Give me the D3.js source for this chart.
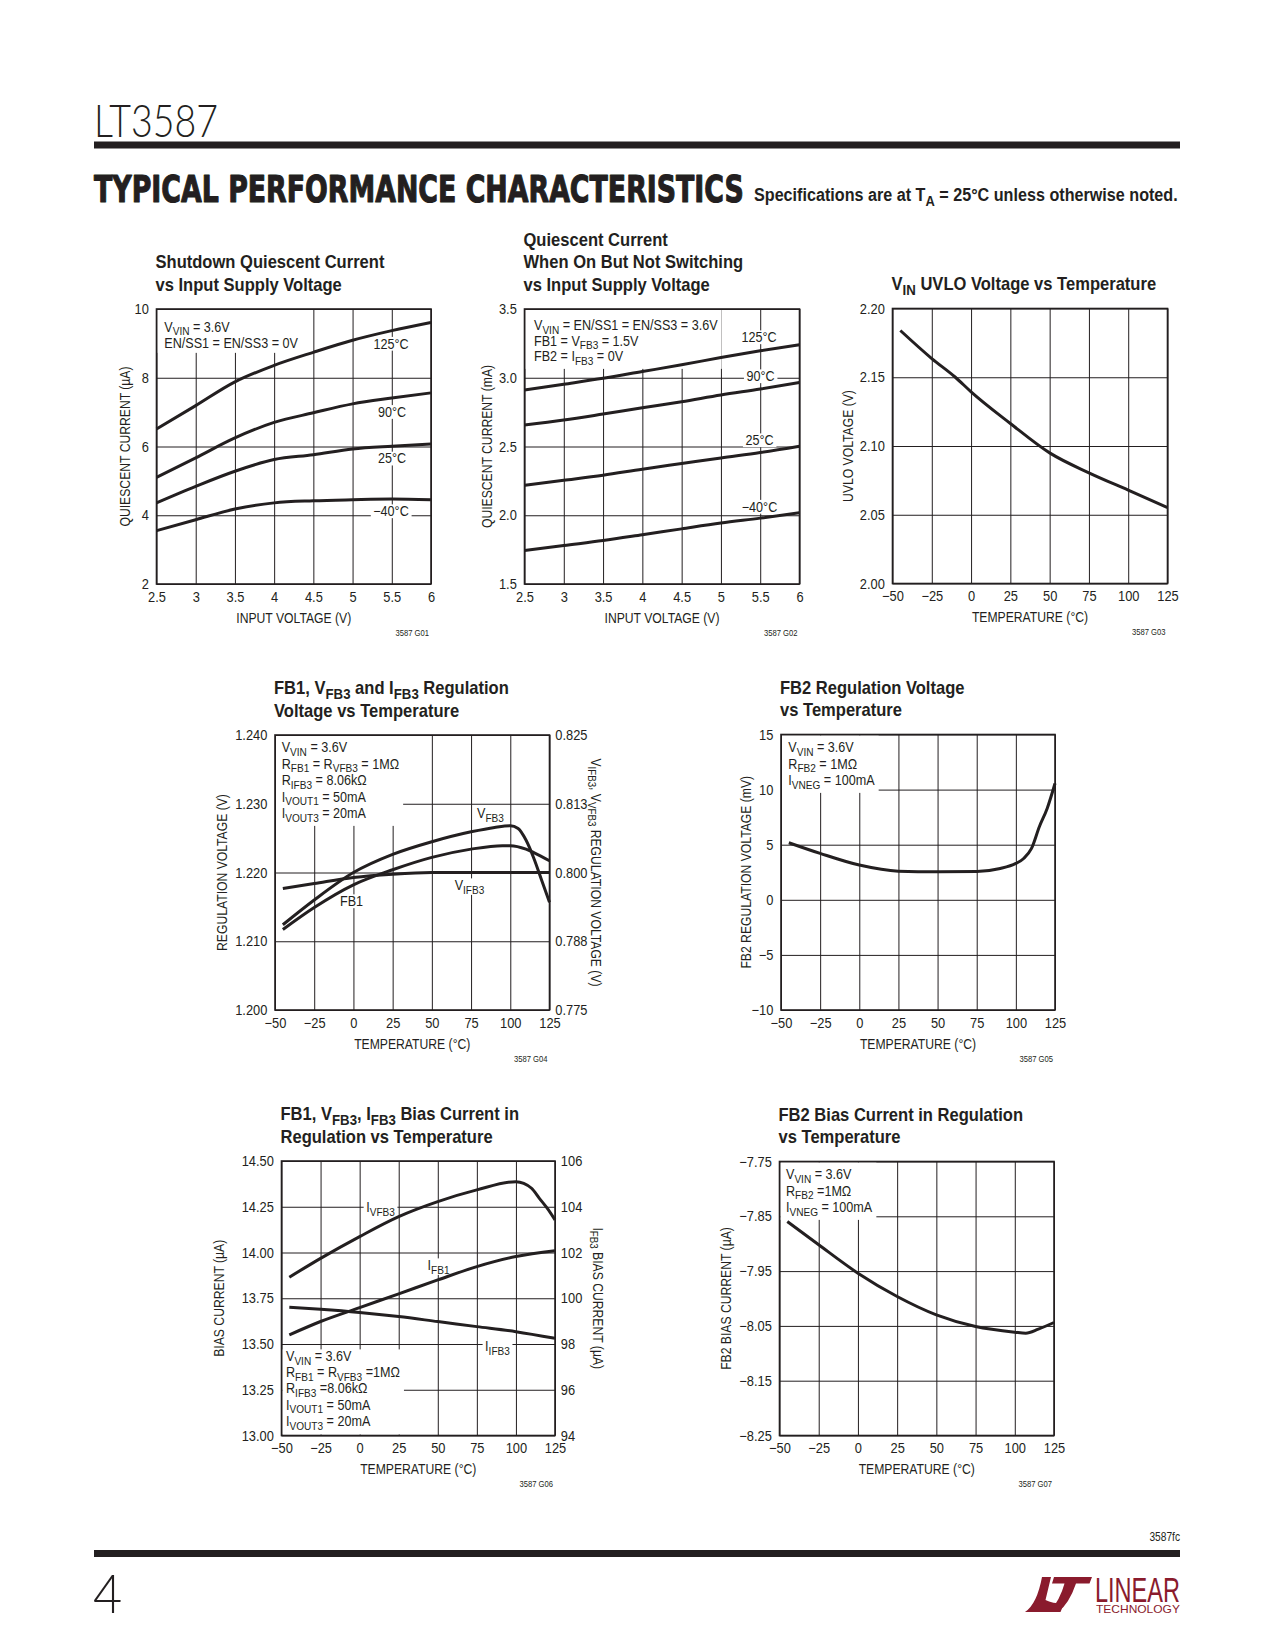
<!DOCTYPE html>
<html><head><meta charset="utf-8">
<script src="https://cdn.jsdelivr.net/npm/d3@7"></script>
<style>html,body{margin:0;padding:0;background:#fff;} svg{display:block;}</style>
</head><body>
<svg id="page" width="1275" height="1650"></svg>
<script>
// ---------------- DATA ----------------
const vinTicks = [2.5, 3, 3.5, 4, 4.5, 5, 5.5, 6];
const vinTickLabels = ['2.5','3','3.5','4','4.5','5','5.5','6'];
const tempTicks = [-50, -25, 0, 25, 50, 75, 100, 125];
const tempTickLabels = ['−50','−25','0','25','50','75','100','125'];

// G01 Shutdown quiescent current (µA) vs VIN
const g01Vin = [2.5, 3, 3.5, 4, 4.5, 5, 5.5, 6];
const g01I125 = [6.51, 7.19, 7.88, 8.36, 8.74, 9.09, 9.37, 9.61];
const g01I90  = [5.10, 5.67, 6.25, 6.70, 6.98, 7.24, 7.41, 7.56];
const g01I25  = [4.36, 4.84, 5.28, 5.62, 5.76, 5.93, 6.01, 6.07];
const g01Im40 = [3.55, 3.87, 4.18, 4.36, 4.42, 4.45, 4.47, 4.45];
const g01YTicks = [2, 4, 6, 8, 10];
const g01YLabels = ['2','4','6','8','10'];

// G02 Quiescent current (mA) on, not switching
const g02Vin = [2.5, 3, 3.5, 4, 4.5, 5, 5.5, 6];
const g02I125 = [2.911, 2.953, 2.996, 3.045, 3.094, 3.147, 3.196, 3.240];
const g02I90  = [2.656, 2.692, 2.736, 2.782, 2.826, 2.875, 2.918, 2.965];
const g02I25  = [2.218, 2.254, 2.291, 2.335, 2.376, 2.417, 2.456, 2.502];
const g02Im40 = [1.743, 1.780, 1.816, 1.858, 1.901, 1.943, 1.979, 2.018];
const g02YTicks = [1.5, 2.0, 2.5, 3.0, 3.5];
const g02YLabels = ['1.5','2.0','2.5','3.0','3.5'];

const tempCurveNames = ['125°C','90°C','25°C','−40°C'];

// G03 VIN UVLO (V) vs temperature
const g03Temp = [-45, -25, -10, 0, 25, 50, 75, 100, 125];
const g03Uvlo = [2.184, 2.1636, 2.150, 2.1394, 2.1164, 2.095, 2.0805, 2.0679, 2.0553];
const g03YTicks = [2.00, 2.05, 2.10, 2.15, 2.20];
const g03YLabels = ['2.00','2.05','2.10','2.15','2.20'];

// G04 regulation voltage vs temperature
const g04VfbTemp = [-45, -25, 0, 25, 50, 75, 90, 100, 105, 110, 115, 120, 125];
const g04Vfb3 = [0.7905, 0.7950, 0.8000, 0.8033, 0.8056, 0.8074, 0.8082, 0.8085, 0.8080, 0.8059, 0.8026, 0.7986, 0.7946]; // right axis
const g04Fb1Temp = [-45, -25, 0, 25, 50, 75, 95, 100, 110, 115, 125];
const g04Fb1 = [1.2117, 1.2149, 1.2182, 1.2204, 1.2222, 1.2234, 1.2239, 1.2239, 1.2234, 1.2229, 1.2217]; // left axis
const g04IfbTemp = [-45, -25, 0, 25, 50, 75, 100, 125];
const g04Vifb3 = [0.7971, 0.7980, 0.7991, 0.7997, 0.8000, 0.8000, 0.8000, 0.8000]; // right axis
const g04YTicks = [1.200, 1.210, 1.220, 1.230, 1.240];
const g04YLabels = ['1.200','1.210','1.220','1.230','1.240'];
const g04Y2Ticks = [0.775, 0.7875, 0.800, 0.8125, 0.825];
const g04Y2Labels = ['0.775','0.788','0.800','0.813','0.825'];

// G05 FB2 regulation voltage (mV)
const g05Temp = [-45, -25, 0, 25, 50, 75, 90, 100, 105, 110, 115, 120, 125];
const g05Vfb2 = [5.18, 4.21, 3.15, 2.60, 2.54, 2.57, 2.84, 3.30, 3.75, 4.66, 6.63, 8.29, 10.56];
const g05YTicks = [-10, -5, 0, 5, 10, 15];
const g05YLabels = ['−10','−5','0','5','10','15'];

// G06 bias currents
const g06VfbTemp = [-45, -25, 0, 25, 50, 75, 100, 105, 110, 115, 120, 125];
const g06Ivfb3 = [13.865, 13.968, 14.087, 14.196, 14.278, 14.342, 14.387, 14.378, 14.351, 14.296, 14.242, 14.178];
const g06Temp = [-45, -25, 0, 25, 50, 75, 100, 125];
const g06Ifb1 = [13.550, 13.623, 13.699, 13.774, 13.850, 13.923, 13.978, 14.010];
const g06Iifb3 = [99.61, 99.52, 99.38, 99.20, 98.98, 98.76, 98.54, 98.25]; // right axis
const g06YTicks = [13.00, 13.25, 13.50, 13.75, 14.00, 14.25, 14.50];
const g06YLabels = ['13.00','13.25','13.50','13.75','14.00','14.25','14.50'];
const g06Y2Ticks = [94, 96, 98, 100, 102, 104, 106];
const g06Y2Labels = ['94','96','98','100','102','104','106'];

// G07 FB2 bias current (µA)
const g07Temp = [-45, -25, 0, 25, 50, 75, 100, 107, 115, 125];
const g07Ifb2 = [-7.8595, -7.902, -7.9538, -7.9963, -8.0298, -8.0511, -8.0614, -8.0633, -8.056, -8.0438];
const g07YTicks = [-8.25, -8.15, -8.05, -7.95, -7.85, -7.75];
const g07YLabels = ['−8.25','−8.15','−8.05','−7.95','−7.85','−7.75'];

// ---------------- DRAWING ----------------
const INK = '#231f20';
const FONT = "'Liberation Sans', Arial, Helvetica, sans-serif";
const svg = d3.select('#page');
svg.append('rect').attr('width', 1275).attr('height', 1650).attr('fill', '#fff');

function rich(t, str, size) {
  const re = /_\{([^}]*)\}/g;
  let last = 0, m, sub = false;
  const sh = size * 0.27, ss = size * 0.8;
  const push = (s, isSub) => {
    if (!s) return;
    const ts = t.append('tspan').text(s);
    if (isSub) { ts.attr('font-size', ss).attr('dy', sub ? 0 : sh); sub = true; }
    else if (sub) { ts.attr('dy', -sh); sub = false; }
  };
  while ((m = re.exec(str))) { push(str.slice(last, m.index), false); push(m[1], true); last = re.lastIndex; }
  push(str.slice(last), false);
}

function txt(layer, x, y, str, o = {}) {
  const size = o.size || 14;
  const t = layer.append('text')
    .attr('font-family', o.family || FONT).attr('font-size', size)
    .attr('font-weight', o.weight || 'normal').attr('fill', o.fill || INK)
    .attr('text-anchor', o.anchor || 'start');
  if (o.dy) t.attr('dy', o.dy);
  if (o.stroke) t.attr('stroke', o.fill || INK).attr('stroke-width', o.stroke).attr('stroke-linejoin', 'round');
  rich(t, str, size);
  let sx = (o.sx === undefined) ? 0.9 : o.sx;
  if (o.width) { const w = t.node().getBBox().width; sx = o.width / w; }
  let tr = `translate(${x},${y})`;
  if (o.rot) tr += ` rotate(${o.rot})`;
  if (sx !== 1) tr += ` scale(${sx},1)`;
  t.attr('transform', tr);
  return t;
}

function whiteBox(layer, x0, y0, x1, y1) {
  layer.append('rect').attr('x', x0).attr('y', y0).attr('width', x1 - x0).attr('height', y1 - y0).attr('fill', '#fff');
}

function chart(c) {
  const {L, T, W, H} = c;
  const x = d3.scaleLinear().domain(c.xDom).range([L, L + W]);
  const y = d3.scaleLinear().domain(c.yDom).range([T + H, T]);
  const y2 = c.y2Dom ? d3.scaleLinear().domain(c.y2Dom).range([T + H, T]) : null;
  const root = svg.append('g');
  const gridL = root.append('g'), bgL = root.append('g'), lineL = root.append('g'),
        frameL = root.append('g'), textL = root.append('g');

  // grid
  gridL.append('g').attr('transform', `translate(0,${T + H})`)
    .call(d3.axisBottom(x).tickValues(c.xTicks).tickSize(-H).tickFormat(''))
    .call(g => g.select('.domain').remove())
    .selectAll('line').attr('stroke', INK).attr('stroke-width', 1);
  gridL.append('g').attr('transform', `translate(${L},0)`)
    .call(d3.axisLeft(y).tickValues(c.yTicks).tickSize(-W).tickFormat(''))
    .call(g => g.select('.domain').remove())
    .selectAll('line').attr('stroke', INK).attr('stroke-width', 1);

  // tick labels
  const xa = textL.append('g').attr('transform', `translate(0,${T + H})`)
    .call(d3.axisBottom(x).tickValues(c.xTicks).tickSize(0).tickPadding(7.5).tickFormat((d, i) => c.xLabels[i]));
  const ya = textL.append('g').attr('transform', `translate(${L},0)`)
    .call(d3.axisLeft(y).tickValues(c.yTicks).tickSize(0).tickPadding(8.5).tickFormat((d, i) => c.yLabels[i]));
  const axes = [xa, ya];
  if (y2) {
    const ra = textL.append('g').attr('transform', `translate(${L + W},0)`)
      .call(d3.axisRight(y2).tickValues(c.y2Ticks).tickSize(0).tickPadding(6.5).tickFormat((d, i) => c.y2Labels[i]));
    axes.push(ra);
  }
  axes.forEach(a => {
    a.select('.domain').remove();
    a.attr('font-family', FONT).attr('font-size', 14.3);
    a.selectAll('text').attr('fill', INK).attr('transform', 'scale(0.9,1)');
  });

  // titles
  const nT = c.title.length;
  c.title.forEach((s, i) => txt(textL, L - 1, T - 18.5 - (nT - 1 - i) * 22.5, s, {size: 18, weight: 'bold', sx: 0.92}));
  txt(textL, L + W / 2, T + H + 38.5, c.xTitle, {size: 14, sx: 0.87, anchor: 'middle'});
  txt(textL, L - c.yTitleOff, T + H / 2, c.yTitle, {size: 14, sx: 0.87, anchor: 'middle', rot: -90, dy: '0.36em'});
  if (c.y2Title) txt(textL, L + W + c.y2TitleOff, T + H / 2, c.y2Title, {size: 14, sx: 0.87, anchor: 'middle', rot: 90, dy: '0.36em'});
  txt(textL, L + W - 2, T + H + 51.5, c.gLabel, {size: 9, sx: 0.85, anchor: 'end'});

  // annotation box
  if (c.notes) {
    const n = c.notes;
    const nodes = n.lines.map((s, i) => txt(textL, n.x, n.y + i * n.pitch, s, {size: 14, sx: 0.9}).node());
    const rs = nodes.map(nd => nd.getBoundingClientRect());
    const r = {left: d3.min(rs, d => d.left), right: d3.max(rs, d => d.right), top: d3.min(rs, d => d.top), bottom: d3.max(rs, d => d.bottom)};
    if (n.corner === 'tl') whiteBox(bgL, L + 1, T + 1, r.right + 4, r.bottom + 2);
    else whiteBox(bgL, L + 1, r.top + 1, r.right + 4, T + H - 1);
  }

  // curve labels
  (c.labels || []).forEach(lb => {
    const nd = txt(textL, lb.x, lb.y, lb.t, {size: 14, sx: 0.9, anchor: 'middle'}).node();
    const r = nd.getBoundingClientRect();
    whiteBox(bgL, r.left - 2.5, r.top + 1, r.right + 2.5, r.bottom - 1);
  });

  // series
  c.series.forEach(s => {
    const yy = s.right ? y2 : y;
    lineL.append('path').datum(d3.zip(s.x, s.y))
      .attr('d', d3.line().x(d => x(d[0])).y(d => yy(d[1])).curve(d3.curveMonotoneX))
      .attr('fill', 'none').attr('stroke', INK).attr('stroke-width', 3)
      .attr('stroke-linejoin', 'round');
  });

  frameL.append('rect').attr('x', L).attr('y', T).attr('width', W).attr('height', H)
    .attr('fill', 'none').attr('stroke', INK).attr('stroke-width', 1.6);
}

const charts = [
  {L: 156.5, T: 309, W: 274.5, H: 275, xDom: [2.5, 6], yDom: [2, 10], xTicks: vinTicks, xLabels: vinTickLabels,
   yTicks: g01YTicks, yLabels: g01YLabels, title: ['Shutdown Quiescent Current', 'vs Input Supply Voltage'],
   xTitle: 'INPUT VOLTAGE (V)', yTitle: 'QUIESCENT CURRENT (µA)', yTitleOff: 31.5, gLabel: '3587 G01',
   series: [{x: g01Vin, y: g01I125}, {x: g01Vin, y: g01I90}, {x: g01Vin, y: g01I25}, {x: g01Vin, y: g01Im40}],
   notes: {lines: ['V_{VIN} = 3.6V', 'EN/SS1 = EN/SS3 = 0V'], x: 164.3, y: 331.7, pitch: 16, corner: 'tl'},
   labels: [{t: tempCurveNames[0], x: 391, y: 348.5}, {t: tempCurveNames[1], x: 392, y: 416.7},
            {t: tempCurveNames[2], x: 392, y: 463.3}, {t: tempCurveNames[3], x: 391, y: 516}]},
  {L: 524.5, T: 309, W: 275, H: 275, xDom: [2.5, 6], yDom: [1.5, 3.5], xTicks: vinTicks, xLabels: vinTickLabels,
   yTicks: g02YTicks, yLabels: g02YLabels, title: ['Quiescent Current', 'When On But Not Switching', 'vs Input Supply Voltage'],
   xTitle: 'INPUT VOLTAGE (V)', yTitle: 'QUIESCENT CURRENT (mA)', yTitleOff: 37.5, gLabel: '3587 G02',
   series: [{x: g02Vin, y: g02I125}, {x: g02Vin, y: g02I90}, {x: g02Vin, y: g02I25}, {x: g02Vin, y: g02Im40}],
   notes: {lines: ['V_{VIN} = EN/SS1 = EN/SS3 = 3.6V', 'FB1 = V_{FB3} = 1.5V', 'FB2 = I_{FB3} = 0V'], x: 534, y: 330, pitch: 15.5, corner: 'tl'},
   labels: [{t: tempCurveNames[0], x: 759, y: 342}, {t: tempCurveNames[1], x: 760.5, y: 381},
            {t: tempCurveNames[2], x: 759.5, y: 445}, {t: tempCurveNames[3], x: 759.5, y: 511.5}]},
  {L: 892.5, T: 308.5, W: 275, H: 275, xDom: [-50, 125], yDom: [2.0, 2.2], xTicks: tempTicks, xLabels: tempTickLabels,
   yTicks: g03YTicks, yLabels: g03YLabels, title: ['V_{IN} UVLO Voltage vs Temperature'],
   xTitle: 'TEMPERATURE (°C)', yTitle: 'UVLO VOLTAGE (V)', yTitleOff: 44.5, gLabel: '3587 G03',
   series: [{x: g03Temp, y: g03Uvlo}]},
  {L: 275, T: 735, W: 274.5, H: 275, xDom: [-50, 125], yDom: [1.2, 1.24], y2Dom: [0.775, 0.825],
   xTicks: tempTicks, xLabels: tempTickLabels, yTicks: g04YTicks, yLabels: g04YLabels, y2Ticks: g04Y2Ticks, y2Labels: g04Y2Labels,
   title: ['FB1, V_{FB3} and I_{FB3} Regulation', 'Voltage vs Temperature'],
   xTitle: 'TEMPERATURE (°C)', yTitle: 'REGULATION VOLTAGE (V)', yTitleOff: 53,
   y2Title: 'V_{IFB3}, V_{VFB3} REGULATION VOLTAGE (V)', y2TitleOff: 47, gLabel: '3587 G04',
   series: [{x: g04VfbTemp, y: g04Vfb3, right: true}, {x: g04Fb1Temp, y: g04Fb1}, {x: g04IfbTemp, y: g04Vifb3, right: true}],
   notes: {lines: ['V_{VIN} = 3.6V', 'R_{FB1} = R_{VFB3} = 1MΩ', 'R_{IFB3} = 8.06kΩ', 'I_{VOUT1} = 50mA', 'I_{VOUT3} = 20mA'], x: 281.7, y: 752, pitch: 16.5, corner: 'tl'},
   labels: [{t: 'V_{FB3}', x: 490.5, y: 818}, {t: 'FB1', x: 351.5, y: 906}, {t: 'V_{IFB3}', x: 469.5, y: 890}]},
  {L: 781, T: 734.5, W: 274, H: 275.5, xDom: [-50, 125], yDom: [-10, 15], xTicks: tempTicks, xLabels: tempTickLabels,
   yTicks: g05YTicks, yLabels: g05YLabels, title: ['FB2 Regulation Voltage', 'vs Temperature'],
   xTitle: 'TEMPERATURE (°C)', yTitle: 'FB2 REGULATION VOLTAGE (mV)', yTitleOff: 35, gLabel: '3587 G05',
   series: [{x: g05Temp, y: g05Vfb2}],
   notes: {lines: ['V_{VIN} = 3.6V', 'R_{FB2} = 1MΩ', 'I_{VNEG} = 100mA'], x: 788.3, y: 752, pitch: 16.5, corner: 'tl'}},
  {L: 281.5, T: 1161, W: 273.5, H: 274.5, xDom: [-50, 125], yDom: [13, 14.5], y2Dom: [94, 106],
   xTicks: tempTicks, xLabels: tempTickLabels, yTicks: g06YTicks, yLabels: g06YLabels, y2Ticks: g06Y2Ticks, y2Labels: g06Y2Labels,
   title: ['FB1, V_{FB3}, I_{FB3} Bias Current in', 'Regulation vs Temperature'],
   xTitle: 'TEMPERATURE (°C)', yTitle: 'BIAS CURRENT (µA)', yTitleOff: 63,
   y2Title: 'I_{FB3} BIAS CURRENT (µA)', y2TitleOff: 43.5, gLabel: '3587 G06',
   series: [{x: g06VfbTemp, y: g06Ivfb3}, {x: g06Temp, y: g06Ifb1}, {x: g06Temp, y: g06Iifb3, right: true}],
   notes: {lines: ['V_{VIN} = 3.6V', 'R_{FB1} = R_{VFB3} =1MΩ', 'R_{IFB3} =8.06kΩ', 'I_{VOUT1} = 50mA', 'I_{VOUT3} = 20mA'], x: 286, y: 1361, pitch: 16.2, corner: 'bl'},
   labels: [{t: 'I_{VFB3}', x: 380.5, y: 1212}, {t: 'I_{FB1}', x: 438.5, y: 1270}, {t: 'I_{IFB3}', x: 497.5, y: 1351}]},
  {L: 779.5, T: 1161.5, W: 274.5, H: 274, xDom: [-50, 125], yDom: [-8.25, -7.75], xTicks: tempTicks, xLabels: tempTickLabels,
   yTicks: g07YTicks, yLabels: g07YLabels, title: ['FB2 Bias Current in Regulation', 'vs Temperature'],
   xTitle: 'TEMPERATURE (°C)', yTitle: 'FB2 BIAS CURRENT (µA)', yTitleOff: 53.5, gLabel: '3587 G07',
   series: [{x: g07Temp, y: g07Ifb2}],
   notes: {lines: ['V_{VIN} = 3.6V', 'R_{FB2} =1MΩ', 'I_{VNEG} = 100mA'], x: 786, y: 1179, pitch: 16.5, corner: 'tl'}}
];
charts.forEach(chart);

// ---------------- PAGE FURNITURE ----------------
const page = svg.append('g');
txt(page, 94, 137, 'LT3587', {size: 45, width: 124, family: "Lato, 'Liberation Sans', sans-serif", weight: 300});
page.append('rect').attr('x', 94).attr('y', 141.5).attr('width', 1086).attr('height', 7).attr('fill', INK);
txt(page, 94, 202, 'TYPICAL PERFORMANCE CHARACTERISTICS', {size: 38, width: 650, family: "'DejaVu Sans', sans-serif", weight: 'bold', stroke: 1.2});
txt(page, 754, 201, 'Specifications are at T_{A} = 25°C unless otherwise noted.', {size: 18, width: 424, weight: 'bold'});

txt(page, 1180, 1541, '3587fc', {size: 12, sx: 0.85, anchor: 'end'});
page.append('rect').attr('x', 94).attr('y', 1550).attr('width', 1086).attr('height', 7).attr('fill', INK);
txt(page, 93, 1613, '4', {size: 53, sx: 0.95, family: "Lato, 'Liberation Sans', sans-serif", weight: 300});

const LOGO = '#8a1b2d';
page.append('path').attr('fill', LOGO)
  .attr('d', 'M1042,1577 L1051,1577 L1045.5,1600 Q1052,1603.5 1064,1603.5 L1060.5,1612 L1025,1612 Q1037,1604 1042,1577 Z');
page.append('path').attr('fill', LOGO)
  .attr('d', 'M1054,1577 L1092,1577 L1089.5,1583.5 L1076,1583.5 Q1069,1604 1058,1612 L1049.5,1612 Q1060,1600 1064.5,1583.5 L1052,1583.5 Z');
txt(page, 1095, 1602, 'LINEAR', {size: 36, width: 85, fill: LOGO});
txt(page, 1096, 1612.5, 'TECHNOLOGY', {size: 10.5, width: 84, fill: LOGO});
</script>
</body></html>
